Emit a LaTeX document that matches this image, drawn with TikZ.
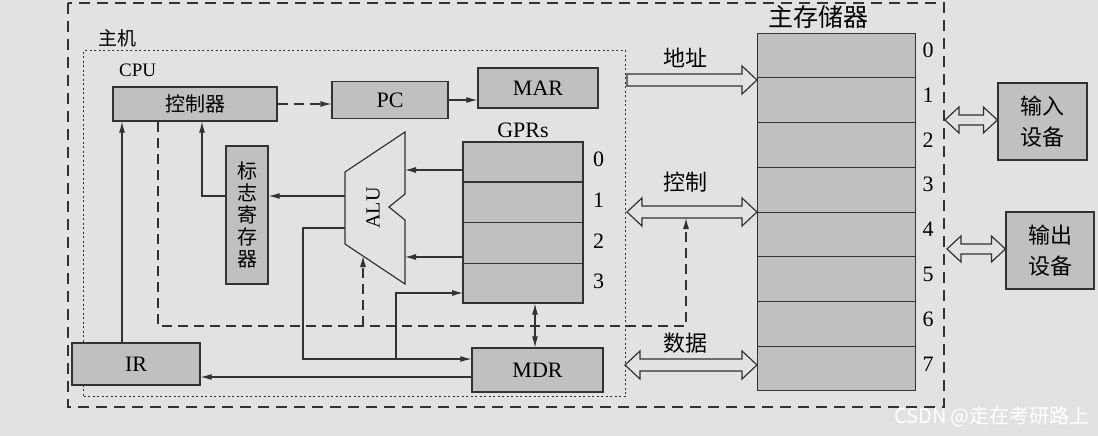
\documentclass[tikz,border=0pt]{standalone}
\usepackage{fontspec}
\setmainfont{Liberation Serif}
\newfontfamily\cjk{Noto Sans CJK SC}
\usetikzlibrary{arrows.meta,calc}
\definecolor{paper}{RGB}{226,226,224}
\definecolor{boxfill}{RGB}{192,192,190}
\definecolor{ink}{RGB}{50,50,50}
\tikzset{
 box/.style={draw=ink, line width=1.2pt, fill=boxfill, inner sep=0pt, font=\fontsize{22}{24}\selectfont},
 ln/.style={draw=ink, line width=1.1pt},
 arr/.style={ln, -{Latex[length=11pt,width=6pt]}},
 arrboth/.style={ln, {Latex[length=11pt,width=6pt]}-{Latex[length=11pt,width=6pt]}},
 dashln/.style={ln, dash pattern=on 10pt off 6pt},
 darr/.style={dashln, -{Latex[length=11pt,width=6pt]}},
 hollow/.style={draw=ink, line width=1.2pt, fill=paper, line join=miter},
 lbl/.style={font=\fontsize{22}{24}\selectfont, inner sep=0pt},
 clbl/.style={font=\cjk\fontsize{22}{24}\selectfont, inner sep=0pt},
}
\newcommand{\hollowdbl}[5]{%
 \draw[hollow] (#1) -- ++(#3,-#4) -- ++(0,#4-#5) -- ($(#2)+(-#3,-#5)$) -- ++(0,#5-#4) -- (#2) -- ++(-#3,#4) -- ++(0,#5-#4) -- ($(#1)+(#3,#5)$) -- ++(0,#4-#5) -- cycle;}
\begin{document}
\begin{tikzpicture}[x=1pt,y=-1pt]
\fill[paper] (0,0) rectangle (1098,436);
\useasboundingbox (0,0) rectangle (1098,436);

% frames
\draw[ink, line width=1.2pt, dash pattern=on 11pt off 7pt] (68,3) rectangle (944,407);
\node[clbl, font=\cjk\fontsize{19}{20}\selectfont, anchor=west] (hostlbl) at (98,38) {主机};
\node[draw=ink, line width=1.2pt, dash pattern=on 2pt off 2.5pt, minimum width=542pt, minimum height=346pt, anchor=north west, inner sep=0pt] (cpu) at (83,50) {};
\node[lbl, font=\fontsize{19}{20}\selectfont, anchor=west] (cpulbl) at (119,70) {CPU};

% boxes
\node[box, minimum width=164pt, minimum height=34pt] (ctrl) at (195,104) {\cjk\fontsize{20}{22}\selectfont 控制器};
\node[box, minimum width=116pt, minimum height=37pt] (pc) at (390,100) {PC};
\node[box, minimum width=120pt, minimum height=40pt] (mar) at (538,88) {MAR};
\node[box, minimum width=120pt, minimum height=161pt] (gpr) at (523,222.5) {};
\node[lbl] (gprlbl) at (523,130) {GPRs};
\foreach \k in {1,2,3}
  \draw[ln] ($(gpr.north west)!\k/4!(gpr.south west)$) -- ($(gpr.north east)!\k/4!(gpr.south east)$);
\foreach \k in {0,...,3}
  \node[lbl] (gn\k) at ($(gpr.north east)!{(\k+0.5)/4}!(gpr.south east)+(15,-2)$) {\k};
\node[box, minimum width=42pt, minimum height=138pt, align=center, font=\cjk\fontsize{20}{22}\selectfont] (flag) at (247,215) {标\\志\\寄\\存\\器};
\node[box, minimum width=128pt, minimum height=42pt] (ir) at (136,364) {IR};
\node[box, minimum width=131pt, minimum height=44pt] (mdr) at (537.5,370) {MDR};

% memory
\node[box, minimum width=158pt, minimum height=357pt, anchor=north west] (mem) at (757,33) {};
\foreach \k in {1,...,7}
  \draw[ln] ($(mem.north west)!\k/8!(mem.south west)$) -- ($(mem.north east)!\k/8!(mem.south east)$);
\foreach \k in {0,...,7}
  \node[lbl] (mn\k) at ($(mem.north east)!{(\k+0.5)/8}!(mem.south east)+(12,-5)$) {\k};
\node[clbl, font=\cjk\fontsize{25}{26}\selectfont] (memlbl) at (818,17) {主存储器};

% I/O devices
\node[box, minimum width=89pt, minimum height=77pt, align=center, font=\cjk\fontsize{22}{31}\selectfont] (indev) at (1042.5,121.5) {输入\\设备};
\node[box, minimum width=88pt, minimum height=77pt, align=center, font=\cjk\fontsize{22}{31}\selectfont] (outdev) at (1050,250.5) {输出\\设备};

% ALU
\coordinate (aluTR) at (405,132);
\coordinate (aluTL) at (345,172);
\coordinate (aluBL) at (345,244);
\coordinate (aluBR) at (405,284);
\draw[ln, line width=1.2pt, fill=paper] (aluTR) -- (aluTL) -- (aluBL) -- (aluBR) -- (405,220) -- (389,207) -- (405,194) -- cycle;
\node[lbl, font=\fontsize{20}{22}\selectfont, rotate=90] (alulbl) at (373,208) {ALU};

% helper coordinates
\coordinate (g0) at (463,170);
\coordinate (g2) at (463,257);
\coordinate (g3) at (463,293);
\coordinate (aluOut) at (345,228);
\coordinate (outBus) at (303,359);
\coordinate (brGPR) at (396,359);
\coordinate (aluF) at (345,196);
\coordinate (flagUp) at (202,0);
\coordinate (irx) at (122,0);
\coordinate (ctlx) at (158,0);
\coordinate (dashY) at (0,326);
\coordinate (cbB) at (686,218);
\coordinate (aluIn) at (363,256);
\coordinate (mdrIR) at (0,377);
\coordinate (gm) at (535,0);

% connectors
\draw[darr] (ctrl.east) -- (ctrl.east -| pc.west);
\draw[arr] (pc.east) -- (pc.east -| mar.west);
\draw[arr] (g0) -- (g0 -| aluTR);
\draw[arr] (g2) -- (g2 -| aluBR);
\draw[arr] (aluOut) -| (outBus) -- (outBus -| mdr.west);
\draw[arr] (brGPR) |- (g3);
\draw[arr] (aluF) -- (aluF -| flag.east);
\draw[arr] (flag.west |- aluF) -| (flagUp |- ctrl.south);
\draw[arr] (irx |- ir.north) -- (irx |- ctrl.south);
\draw[darr] (ctlx |- ctrl.south) |- (cbB |- dashY) -- (cbB);
\draw[darr] (aluIn |- dashY) -- (aluIn);
\draw[arr] (mdr.west |- mdrIR) -- (ir.east |- mdrIR);
\draw[arrboth] (gm |- gpr.south) -- (gm |- mdr.north);

% buses
\coordinate (addrL) at (627,80);
\draw[hollow] ($(addrL)+(0,-6)$) -- ($(addrL -| mem.west)+(-15,-6)$) -- ++(0,-8) -- (addrL -| mem.west) -- ++(-15,14) -- ++(0,-8) -- ($(addrL)+(0,6)$) -- cycle;
\coordinate (ctlL) at (627,212);
\hollowdbl{ctlL}{ctlL -| mem.west}{15}{14}{6}
\coordinate (datL) at (625,365);
\hollowdbl{datL}{datL -| mem.west}{15}{14}{6}
\coordinate (inL) at (945,120);
\hollowdbl{inL}{inL -| indev.west}{14}{13}{5}
\coordinate (outL) at (947,249);
\hollowdbl{outL}{outL -| outdev.west}{14}{13}{5}

\node[clbl] (addrlbl) at (685,58) {地址};
\node[clbl] (ctllbl) at (685,182) {控制};
\node[clbl] (datlbl) at (685,343) {数据};

% watermark
\node[font=\cjk\fontsize{20}{22}\selectfont, text=white, inner sep=0pt] (wm) at (992,417) {CSDN @走在考研路上};
\end{tikzpicture}
\end{document}
